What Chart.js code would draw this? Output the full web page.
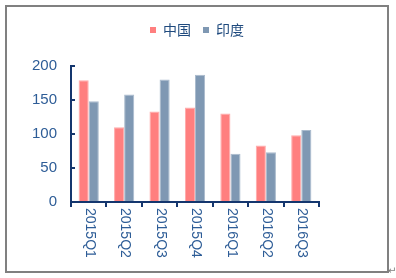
<!DOCTYPE html>
<html>
<head>
<meta charset="utf-8">
<script src="https://cdn.jsdelivr.net/npm/chart.js@4/dist/chart.umd.min.js"></script>
<style>
html,body{margin:0;padding:0;background:#fff;}
#wrap{width:396px;height:278px;position:relative;}
</style>
</head>
<body>
<div id="wrap"><canvas id="c" width="396" height="278"></canvas></div>
<script>
const categories = ["2015Q1","2015Q2","2015Q3","2015Q4","2016Q1","2016Q2","2016Q3"];
const seriesNames = ["中国","印度"];
const chinaValues = [179, 110, 133, 139, 130, 83, 98];
const indiaValues = [148, 158, 180, 187, 71, 73, 106];
const yTicks = [0, 50, 100, 150, 200];

const AXIS = '#14366E';
const LABEL = '#2E5D97';

const decor = {
  id: 'decor',
  beforeDraw(chart) {
    const ctx = chart.ctx;
    ctx.save();
    ctx.fillStyle = '#fff';
    ctx.fillRect(0, 0, chart.width, chart.height);
    ctx.strokeStyle = '#808080';
    ctx.lineWidth = 2;
    ctx.strokeRect(6, 6, 382, 266);
    ctx.fillStyle = '#808080';
    ctx.font = '10px "DejaVu Sans"';
    ctx.textBaseline = 'middle';
    ctx.textAlign = 'left';
    ctx.fillText('↵', 388, 271);
    ctx.restore();
  },
  afterDraw(chart) {
    const ctx = chart.ctx;
    const xs = chart.scales.x, ys = chart.scales.y;
    const a = chart.chartArea;
    ctx.save();
    ctx.strokeStyle = AXIS;
    ctx.lineWidth = 2;
    // y axis
    ctx.beginPath();
    ctx.moveTo(a.left, ys.getPixelForValue(0) + 1);
    ctx.lineTo(a.left, ys.getPixelForValue(200));
    ctx.stroke();
    yTicks.forEach(v => {
      if (v === 0) return;
      const y = Math.round(ys.getPixelForValue(v));
      ctx.beginPath();
      ctx.moveTo(a.left - 1, y);
      ctx.lineTo(a.left + 4, y);
      ctx.stroke();
    });
    // x axis
    const y0 = ys.getPixelForValue(0);
    ctx.beginPath();
    ctx.moveTo(a.left - 1, y0);
    ctx.lineTo(a.right + 1, y0);
    ctx.stroke();
    const n = categories.length;
    const step = (a.right - a.left) / n;
    for (let i = 0; i <= n; i++) {
      const x = Math.round(a.left + i * step);
      ctx.beginPath();
      ctx.moveTo(x, y0);
      ctx.lineTo(x, y0 + 5);
      ctx.stroke();
    }
    // x labels rotated clockwise
    ctx.fillStyle = LABEL;
    ctx.font = '14px "Liberation Sans", Arial, sans-serif';
    ctx.textAlign = 'left';
    ctx.textBaseline = 'middle';
    categories.forEach((c, i) => {
      const x = xs.getPixelForValue(i);
      ctx.save();
      ctx.translate(x + 1, y0 + 6);
      ctx.rotate(Math.PI / 2);
      ctx.fillText(c, 0, 0);
      ctx.restore();
    });
    // legend
    const ds = chart.data.datasets;
    ctx.font = '14px "Noto Sans CJK SC", sans-serif';
    const box = 6, gapBox = 7, gapItem = 12;
    let total = 0;
    const widths = ds.map(d => ctx.measureText(d.label).width);
    widths.forEach((w, i) => { total += box + gapBox + w + (i < widths.length - 1 ? gapItem : 0); });
    let x = 197 - total / 2;
    const ly = 30;
    ds.forEach((d, i) => {
      ctx.fillStyle = d.backgroundColor;
      ctx.fillRect(x, ly - 3, box, box);
      x += box + gapBox;
      ctx.fillStyle = '#1F4A7E';
      ctx.textAlign = 'left';
      ctx.textBaseline = 'middle';
      ctx.fillText(d.label, x, ly);
      x += widths[i] + gapItem;
    });
    ctx.restore();
  }
};

new Chart(document.getElementById('c'), {
  type: 'bar',
  data: {
    labels: categories,
    datasets: [
      { label: seriesNames[0], data: chinaValues, backgroundColor: '#FF7F7F', borderColor: '#FFAAAA', borderWidth: 1, borderSkipped: 'bottom' },
      { label: seriesNames[1], data: indiaValues, backgroundColor: '#7F98B3', borderColor: '#AABBCD', borderWidth: 1, borderSkipped: 'bottom' }
    ]
  },
  options: {
    responsive: false,
    animation: false,
    devicePixelRatio: 1,
    layout: { padding: { left: 0, top: 66, right: 77, bottom: 0 } },
    plugins: { legend: { display: false }, tooltip: { enabled: false } },
    datasets: { bar: { categoryPercentage: 0.57, barPercentage: 1.0 } },
    scales: {
      x: {
        grid: { display: false, drawTicks: false },
        border: { display: false },
        ticks: { display: false },
        afterFit: s => { s.height = 76; }
      },
      y: {
        min: 0, max: 200,
        grid: { display: false, drawTicks: false },
        border: { display: false },
        afterBuildTicks: s => { s.ticks = yTicks.map(v => ({ value: v })); },
        ticks: {
          padding: 14,
          color: LABEL,
          font: { family: '"Liberation Sans", Arial, sans-serif', size: 15 }
        },
        afterFit: s => { s.width = 71; }
      }
    }
  },
  plugins: [decor]
});
</script>
</body>
</html>
